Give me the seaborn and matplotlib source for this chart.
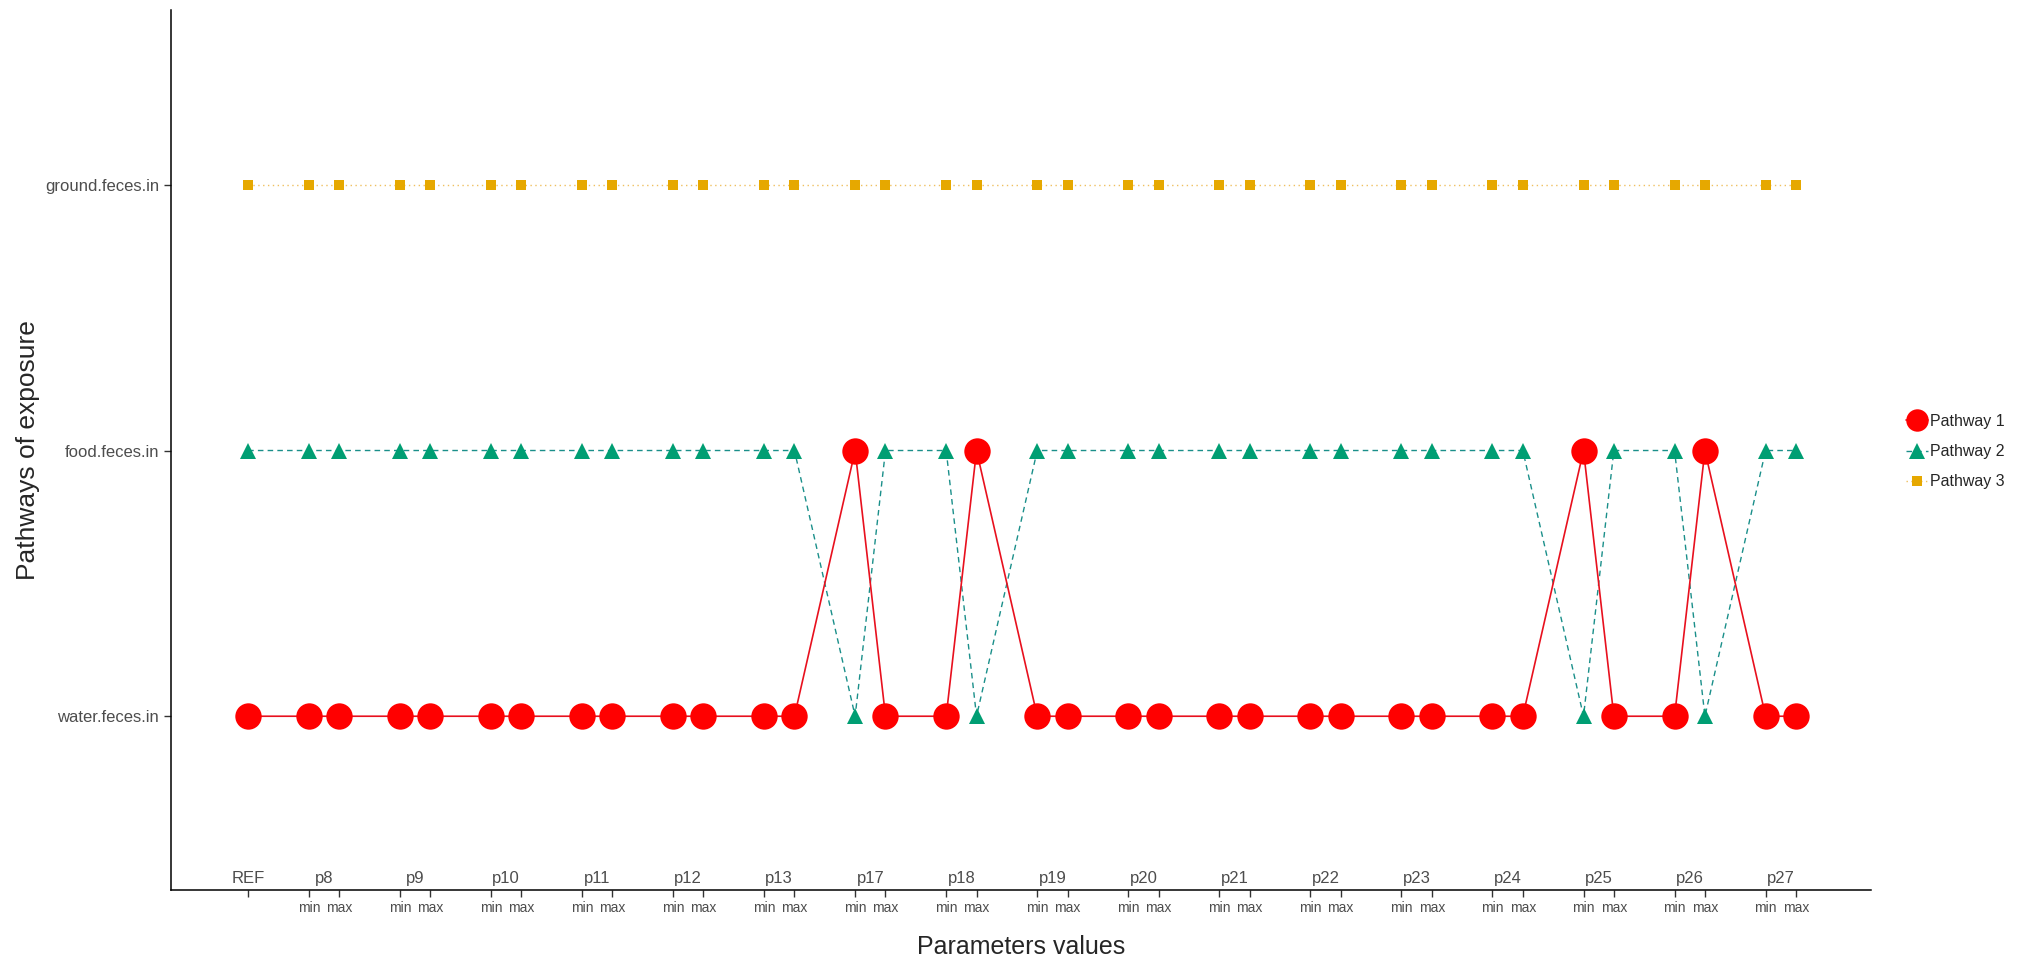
import matplotlib
matplotlib.use("Agg")
import matplotlib.pyplot as plt
import seaborn as sns
import pandas as pd
import numpy as np
from matplotlib.lines import Line2D

sns.set_theme(style="white")
plt.rcParams['font.family'] = ['Liberation Sans', 'DejaVu Sans']

# ---- data ----
params = ["p8", "p9", "p10", "p11", "p12", "p13", "p17", "p18", "p19",
          "p20", "p21", "p22", "p23", "p24", "p25", "p26", "p27"]
levels = ["min", "max"]
pathways_y = ["water.feces.in", "food.feces.in", "ground.feces.in"]

# one value per point: REF, then p8 min, p8 max, p9 min, ...
pathway1 = (["water.feces.in"] * 13 +                # REF .. p13
            ["food.feces.in", "water.feces.in",      # p17
             "water.feces.in", "food.feces.in"] +    # p18
            ["water.feces.in"] * 12 +                # p19 .. p24
            ["food.feces.in", "water.feces.in",      # p25
             "water.feces.in", "food.feces.in",      # p26
             "water.feces.in", "water.feces.in"])    # p27
pathway2 = (["food.feces.in"] * 13 +
            ["water.feces.in", "food.feces.in",
             "food.feces.in", "water.feces.in"] +
            ["food.feces.in"] * 12 +
            ["water.feces.in", "food.feces.in",
             "food.feces.in", "water.feces.in",
             "food.feces.in", "food.feces.in"])
pathway3 = ["ground.feces.in"] * 35

# ---- positions (REF, then min/max pairs with a gap) ----
xpos = [0]
xlab = [""]
for k, p in enumerate(params):
    xpos += [2 + 3 * k, 3 + 3 * k]
    xlab += levels
ymap = {n: i + 1 for i, n in enumerate(pathways_y)}

df = pd.DataFrame({
    "x": xpos * 3,
    "y": [ymap[v] for v in pathway1 + pathway2 + pathway3],
    "Pathway": ["Pathway 1"] * 35 + ["Pathway 2"] * 35 + ["Pathway 3"] * 35,
})

fig = plt.figure(figsize=(20.27, 9.57), dpi=100)
ax = fig.add_axes([0.0844, 0.070, 0.8386, 0.9196])

colors = {"Pathway 1": "#FF0000", "Pathway 2": "#009E73", "Pathway 3": "#E6A800"}
line_colors = {"Pathway 1": "#E8101E", "Pathway 2": "#1A8F8A", "Pathway 3": "#EFC060"}
styles = {
    "Pathway 1": dict(marker="o", markersize=19, linestyle="-", linewidth=1.2),
    "Pathway 2": dict(marker="^", markersize=11, linestyle=(0, (4, 3)), linewidth=1.0),
    "Pathway 3": dict(marker="s", markersize=6.5, linestyle=(0, (1, 2.5)), linewidth=1.0),
}
for name in ["Pathway 3", "Pathway 2", "Pathway 1"]:
    sub = df[df["Pathway"] == name]
    st = styles[name]
    # connecting line
    sns.lineplot(data=sub, x="x", y="y", sort=False, ax=ax, color=line_colors[name],
                 linewidth=st["linewidth"], legend=False, estimator=None)
    ax.lines[-1].set_linestyle(st["linestyle"])
    # markers
    sns.lineplot(data=sub, x="x", y="y", sort=False, ax=ax, color=colors[name],
                 marker=st["marker"], markersize=st["markersize"],
                 markeredgewidth=0, linewidth=0, legend=False, estimator=None)

ax.set_xlim(-2.54, 53.47)
ax.set_ylim(0.346, 3.658)
ax.set_yticks([1, 2, 3])
ax.set_yticklabels(pathways_y, color="#4D4D4D", fontsize=12)
ax.set_xticks(xpos)
ax.set_xticklabels(xlab, color="#4D4D4D", fontsize=10)
ax.tick_params(axis="both", length=5, width=1, color="#333333", direction="out",
               bottom=True, left=True)
ax.tick_params(axis="x", pad=3)

for s in ["top", "right"]:
    ax.spines[s].set_visible(False)
for s in ["left", "bottom"]:
    ax.spines[s].set_color("black")
    ax.spines[s].set_linewidth(1.1)

# group labels above the x axis
trans = ax.get_xaxis_transform()
ax.text(0, 0.005, "REF", transform=trans, ha="center", va="bottom",
        color="#4D4D4D", fontsize=12)
for k, p in enumerate(params):
    ax.text(2.5 + 3 * k, 0.005, p, transform=trans, ha="center", va="bottom",
            color="#4D4D4D", fontsize=12)

ax.set_xlabel("Parameters values", fontsize=18, labelpad=14)
ax.set_ylabel("Pathways of exposure", fontsize=19, labelpad=4)

handles = [Line2D([0], [0], color=line_colors[n], marker=styles[n]["marker"],
                  markerfacecolor=colors[n],
                  markersize=styles[n]["markersize"] * (0.85 if n == "Pathway 1" else 1),
                  markeredgewidth=0, linestyle=styles[n]["linestyle"],
                  linewidth=styles[n]["linewidth"])
           for n in ["Pathway 1", "Pathway 2", "Pathway 3"]]
fig.legend(handles, ["Pathway 1", "Pathway 2", "Pathway 3"], loc="center left",
           bbox_to_anchor=(0.933, 0.528), frameon=False, fontsize=11.5,
           handlelength=1.4, handletextpad=0.15, labelspacing=0.95)

fig.savefig("out.png", dpi=100)
